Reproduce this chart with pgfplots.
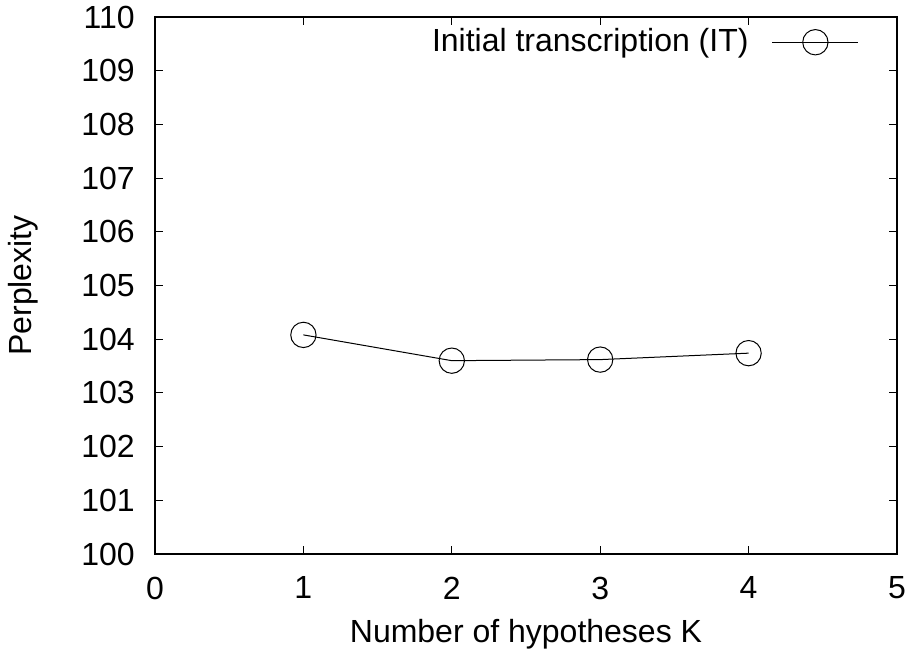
\documentclass[border=0pt]{standalone}
\usepackage{fontspec}
\setmainfont{Liberation Sans}
\usepackage{pgfplots}
\pgfplotsset{compat=1.18}
\newcommand{\chartfont}{\fontsize{24}{28}\selectfont}
\begin{document}
\chartfont
\begin{tikzpicture}
\path[use as bounding box] (-116.25pt,-74.25pt) rectangle (567pt,415.5pt);
\begin{axis}[
  at={(0pt,0pt)}, anchor=south west,
  scale only axis,
  width=556.5pt, height=402.75pt,
  xmin=0, xmax=5, ymin=100, ymax=110,
  xtick={0,1,2,3,4,5}, ytick={100,101,...,110},
  tick align=inside, major tick length=6pt,
  /pgf/number format/assume math mode=true,
  tick label style={font=\chartfont},
  label style={font=\chartfont},
  xticklabel style={anchor=north, inner sep=0pt, yshift=-17pt},
  yticklabel style={anchor=east, inner sep=0pt, xshift=-15pt},
  xlabel={Number of hypotheses K},
  ylabel={Perplexity},
  xlabel style={at={(axis description cs:0.5,-0.149)}, anchor=center},
  ylabel style={at={(axis description cs:-0.178,0.5)}, anchor=center},
  axis line style={line width=1.1pt},
  every tick/.style={line width=0.8pt, black},
  legend style={draw=none, fill=none, inner sep=0pt, at={(0.949,0.953)}, anchor=east,
    font=\chartfont, legend cell align=right},
  legend plot pos=right,
  legend image code/.code={\path (-10pt,0pt); \draw[mark repeat=2, mark phase=2, #1] plot coordinates {(5.5pt,0pt) (37.75pt,0pt) (70pt,0pt)};},
]
\addplot[black, line width=0.75pt, mark=o, mark size=9.5pt, mark options={line width=0.75pt, fill=none}]
  coordinates {(1,104.08) (2,103.60) (3,103.62) (4,103.74)};
\addlegendentry{Initial transcription (IT)}
\end{axis}
\end{tikzpicture}
\end{document}
